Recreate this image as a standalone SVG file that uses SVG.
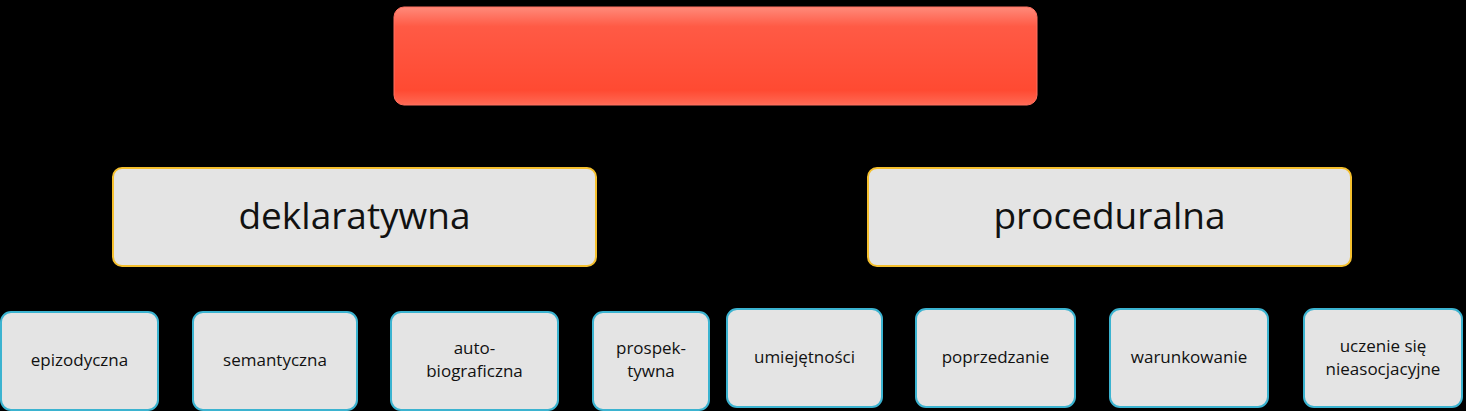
<svg xmlns="http://www.w3.org/2000/svg" width="1466" height="411" viewBox="0 0 1466 411">
<defs>
<linearGradient id="red" x1="0" y1="0" x2="0" y2="1">
<stop offset="0" stop-color="#ff8a7a"/><stop offset="0.2" stop-color="#ff5a45"/><stop offset="0.85" stop-color="#ff4a32"/><stop offset="1" stop-color="#ff6a55"/>
</linearGradient>
</defs>
<style>
.mid{fill:#e4e4e4;stroke:#f5c02e;stroke-width:2}
.leaf{fill:#e4e4e4;stroke:#3bb3d0;stroke-width:2}
.big{font-family:"Open Sans",sans-serif;font-size:37px;fill:#111;text-anchor:middle}
.sm{font-family:"Open Sans",sans-serif;font-size:17px;fill:#111;text-anchor:middle}
</style>
<rect width="1466" height="411" fill="#000"/>
<g id="root"><rect x="394" y="7" width="643" height="98" rx="10" fill="url(#red)" stroke="#ff7060"/></g>
<g id="dekl"><rect class="mid" x="113" y="168" width="483" height="98" rx="9"/><text class="big" x="354.5" y="229">deklaratywna</text></g>
<g id="proc"><rect class="mid" x="868" y="168" width="483" height="98" rx="9"/><text class="big" x="1109.5" y="229">proceduralna</text></g>
<g id="epi"><rect class="leaf" x="1" y="312" width="157" height="98" rx="10"/><text class="sm" x="79.5" y="366">epizodyczna</text></g>
<g id="sem"><rect class="leaf" x="193" y="312" width="164" height="98" rx="10"/><text class="sm" x="275" y="366">semantyczna</text></g>
<g id="auto"><rect class="leaf" x="391" y="312" width="167" height="98" rx="10"/><text class="sm" x="474.5" y="354">auto-</text><text class="sm" x="474.5" y="377">biograficzna</text></g>
<g id="pros"><rect class="leaf" x="593" y="312" width="116" height="98" rx="10"/><text class="sm" x="651" y="354">prospek-</text><text class="sm" x="651" y="377">tywna</text></g>
<g id="umie"><rect class="leaf" x="727" y="309" width="155" height="98" rx="10"/><text class="sm" x="804.5" y="363">umiejętności</text></g>
<g id="popr"><rect class="leaf" x="916" y="309" width="159" height="98" rx="10"/><text class="sm" x="995.5" y="363">poprzedzanie</text></g>
<g id="waru"><rect class="leaf" x="1110" y="309" width="158" height="98" rx="10"/><text class="sm" x="1189" y="363">warunkowanie</text></g>
<g id="ucze"><rect class="leaf" x="1304" y="309" width="158" height="98" rx="10"/><text class="sm" x="1383" y="352">uczenie się</text><text class="sm" x="1383" y="375">nieasocjacyjne</text></g>
<g id="connectors"></g>
</svg>
